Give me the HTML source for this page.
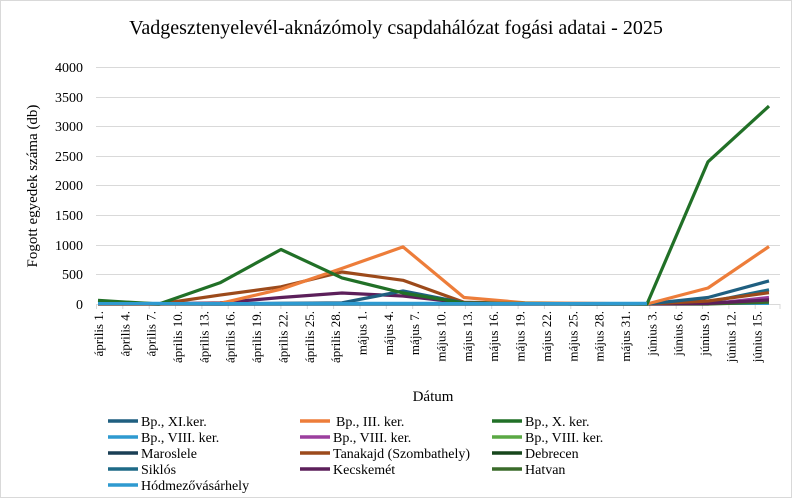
<!DOCTYPE html>
<html><head><meta charset="utf-8"><style>
body{margin:0;background:#fff}
svg{display:block}
text{font-family:"Liberation Serif",serif}
</style></head><body>
<svg width="792" height="498" viewBox="0 0 792 498" xmlns="http://www.w3.org/2000/svg" font-family="Liberation Serif, serif">
<rect x="0.5" y="0.5" width="791" height="497" fill="#fff" stroke="#d9d9d9"/>
<text x="396" y="34" font-size="20" text-anchor="middle">Vadgesztenyelevél-aknázómoly csapdahálózat fogási adatai - 2025</text>
<g stroke="#d9d9d9" stroke-width="1">
<line x1="96" y1="67.5" x2="780" y2="67.5"/><line x1="96" y1="97.5" x2="780" y2="97.5"/>
<line x1="96" y1="126.5" x2="780" y2="126.5"/><line x1="96" y1="156.5" x2="780" y2="156.5"/>
<line x1="96" y1="185.5" x2="780" y2="185.5"/><line x1="96" y1="215.5" x2="780" y2="215.5"/>
<line x1="96" y1="245.5" x2="780" y2="245.5"/><line x1="96" y1="274.5" x2="780" y2="274.5"/>
<line x1="96" y1="304.5" x2="780" y2="304.5"/>
</g>
<g font-size="14" text-anchor="end">
<text x="83" y="72">4000</text><text x="83" y="102">3500</text><text x="83" y="131">3000</text>
<text x="83" y="161">2500</text><text x="83" y="190">2000</text><text x="83" y="220">1500</text>
<text x="83" y="250">1000</text><text x="83" y="279">500</text><text x="83" y="309">0</text>
</g>
<text transform="translate(37,186) rotate(-90)" font-size="15" text-anchor="middle">Fogott egyedek száma (db)</text>
<g stroke="#d9d9d9">
<line x1="96.5" x2="96.5" y1="304" y2="309"/><line x1="122.8" x2="122.8" y1="304" y2="309"/><line x1="149.2" x2="149.2" y1="304" y2="309"/><line x1="175.5" x2="175.5" y1="304" y2="309"/><line x1="201.9" x2="201.9" y1="304" y2="309"/><line x1="228.2" x2="228.2" y1="304" y2="309"/><line x1="254.6" x2="254.6" y1="304" y2="309"/><line x1="280.9" x2="280.9" y1="304" y2="309"/><line x1="307.3" x2="307.3" y1="304" y2="309"/><line x1="333.6" x2="333.6" y1="304" y2="309"/><line x1="360" x2="360" y1="304" y2="309"/><line x1="386.3" x2="386.3" y1="304" y2="309"/><line x1="412.7" x2="412.7" y1="304" y2="309"/><line x1="439" x2="439" y1="304" y2="309"/><line x1="465.4" x2="465.4" y1="304" y2="309"/><line x1="491.7" x2="491.7" y1="304" y2="309"/><line x1="518.1" x2="518.1" y1="304" y2="309"/><line x1="544.4" x2="544.4" y1="304" y2="309"/><line x1="570.8" x2="570.8" y1="304" y2="309"/><line x1="597.1" x2="597.1" y1="304" y2="309"/><line x1="623.5" x2="623.5" y1="304" y2="309"/><line x1="649.8" x2="649.8" y1="304" y2="309"/><line x1="676.2" x2="676.2" y1="304" y2="309"/><line x1="702.5" x2="702.5" y1="304" y2="309"/><line x1="728.9" x2="728.9" y1="304" y2="309"/><line x1="755.2" x2="755.2" y1="304" y2="309"/><line x1="780" x2="780" y1="304" y2="309"/>
</g>
<g font-size="13" text-anchor="end">
<text transform="translate(103,311) rotate(-90)">április 1.</text>
<text transform="translate(129.3,311) rotate(-90)">április 4.</text>
<text transform="translate(155.7,311) rotate(-90)">április 7.</text>
<text transform="translate(182,311) rotate(-90)">április 10.</text>
<text transform="translate(208.4,311) rotate(-90)">április 13.</text>
<text transform="translate(234.7,311) rotate(-90)">április 16.</text>
<text transform="translate(261.1,311) rotate(-90)">április 19.</text>
<text transform="translate(287.4,311) rotate(-90)">április 22.</text>
<text transform="translate(313.8,311) rotate(-90)">április 25.</text>
<text transform="translate(340.1,311) rotate(-90)">április 28.</text>
<text transform="translate(366.5,311) rotate(-90)">május 1.</text>
<text transform="translate(392.8,311) rotate(-90)">május 4.</text>
<text transform="translate(419.2,311) rotate(-90)">május 7.</text>
<text transform="translate(445.5,311) rotate(-90)">május 10.</text>
<text transform="translate(471.9,311) rotate(-90)">május 13.</text>
<text transform="translate(498.2,311) rotate(-90)">május 16.</text>
<text transform="translate(524.6,311) rotate(-90)">május 19.</text>
<text transform="translate(550.9,311) rotate(-90)">május 22.</text>
<text transform="translate(577.3,311) rotate(-90)">május 25.</text>
<text transform="translate(603.6,311) rotate(-90)">május 28.</text>
<text transform="translate(630,311) rotate(-90)">május 31.</text>
<text transform="translate(656.3,311) rotate(-90)">június 3.</text>
<text transform="translate(682.7,311) rotate(-90)">június 6.</text>
<text transform="translate(709,311) rotate(-90)">június 9.</text>
<text transform="translate(735.4,311) rotate(-90)">június 12.</text>
<text transform="translate(761.7,311) rotate(-90)">június 15.</text>
</g>
<text x="433" y="401" font-size="15" text-anchor="middle">Dátum</text>
<g fill="none" stroke-width="3.2" stroke-linejoin="round">
<polyline stroke="#2e9ad0" points="98,303.4 769,303.4"/>
<polyline stroke="#9b3f9e" points="98,304 708,304 769,297.5"/>
<polyline stroke="#3a6b2a" points="98,304 708,304 769,302.2"/>
<polyline stroke="#1e6a87" points="98,304 647,304 708,302.2 769,289.8"/>
<polyline stroke="#5c1f5a" points="98,304 159,304 220,302.8 281,297.5 342,293 403,296 464,302.8 525,303.7 586,304 647,304 708,303.4 769,299.9"/>
<polyline stroke="#9c4a1b" points="98,304 159,304 220,295.1 281,286.8 342,272 403,280.3 464,302.2 525,303.4 586,303.7 647,304 708,301 769,292.7"/>
<polyline stroke="#1f5f80" points="98,304 159,304 220,304 281,303.4 342,302.8 403,291 464,302.8 525,303.7 586,304 647,304 708,297.5 769,280.9"/>
<polyline stroke="#ed7d3a" points="98,304 159,304 220,303.4 281,289.2 342,268.4 403,246.9 464,297.5 525,302.8 586,303.4 647,304 708,288 769,246.5"/>
<polyline stroke="#217027" points="98,300.4 159,304 220,282.8 281,249.5 342,277.9 403,293 464,303.1 525,303.4 586,303.7 647,304 708,161.8 769,106.1"/>
<polyline stroke="#2e9ad0" points="98,303.6 647,303.6"/>
</g>
<g font-size="14">
<g stroke-width="3.5">
<line x1="108" y1="421" x2="138" y2="421" stroke="#1f5f80"/><line x1="300" y1="421" x2="330" y2="421" stroke="#ed7d3a"/><line x1="492" y1="421" x2="522" y2="421" stroke="#217027"/>
<line x1="108" y1="437" x2="138" y2="437" stroke="#2e9ad0"/><line x1="300" y1="437" x2="330" y2="437" stroke="#9b3f9e"/><line x1="492" y1="437" x2="522" y2="437" stroke="#5aa844"/>
<line x1="108" y1="453" x2="138" y2="453" stroke="#1a3f55"/><line x1="300" y1="453" x2="330" y2="453" stroke="#9c4a1b"/><line x1="492" y1="453" x2="522" y2="453" stroke="#17461c"/>
<line x1="108" y1="469" x2="138" y2="469" stroke="#1e6a87"/><line x1="300" y1="469" x2="330" y2="469" stroke="#5c1f5a"/><line x1="492" y1="469" x2="522" y2="469" stroke="#3a6b2a"/>
<line x1="108" y1="485" x2="138" y2="485" stroke="#2e9ad0"/>
</g>
<text x="141" y="426">Bp., XI.ker.</text><text x="336" y="426">Bp., III. ker.</text><text x="525" y="426">Bp., X. ker.</text>
<text x="141" y="442">Bp., VIII. ker.</text><text x="333" y="442">Bp., VIII. ker.</text><text x="525" y="442">Bp., VIII. ker.</text>
<text x="141" y="458">Maroslele</text><text x="333" y="458">Tanakajd (Szombathely)</text><text x="525" y="458">Debrecen</text>
<text x="141" y="474">Siklós</text><text x="333" y="474">Kecskemét</text><text x="525" y="474">Hatvan</text>
<text x="141" y="490">Hódmezővásárhely</text>
</g>
</svg>
</body></html>
